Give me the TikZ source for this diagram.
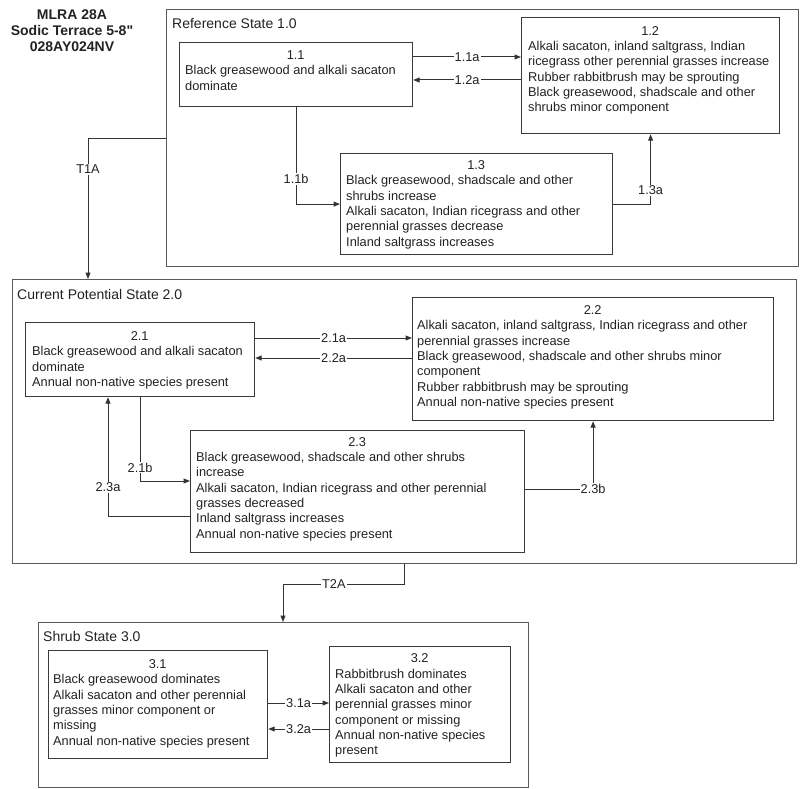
\documentclass[tikz,border=0pt]{standalone}
\usepackage{fontspec}
\setmainfont{Liberation Sans}
\usetikzlibrary{calc,arrows.meta}
\definecolor{stategray}{HTML}{5A5A5A}
\definecolor{boxgray}{HTML}{3A3A3A}
\definecolor{linecol}{HTML}{333333}
\definecolor{txtcol}{HTML}{222222}
\begin{document}
\begin{tikzpicture}[x=1pt,y=-1pt,
  statebox/.style={draw=stategray, line width=1.4pt, inner sep=0pt, anchor=north west},
  sbox/.style={draw=boxgray, line width=1.2pt, inner sep=0pt, anchor=north west},
  txt/.style={anchor=north west, inner sep=0pt, align=left, font=\fontsize{12.8}{15.3}\selectfont, text=txtcol},
  statelbl/.style={anchor=west, inner sep=0pt, font=\fontsize{14}{16}\selectfont, text=txtcol},
  conn/.style={draw=linecol, line width=1pt, -{Triangle[length=6.5pt,width=5pt]}},
  lbl/.style={fill=white, inner sep=1pt, font=\fontsize{12.8}{15}\selectfont, text=txtcol}]
\useasboundingbox (0,0) rectangle (800,789);

% title
\node[align=center, inner sep=0pt, font=\bfseries\fontsize{14}{16}\selectfont, text=txtcol] (title) at (72,31)
  {MLRA 28A\\Sodic Terrace 5-8\XeTeXglyph\XeTeXcharglyph"22\relax\\028AY024NV};

% state containers
\node[statebox, minimum width=632pt, minimum height=257pt] (s1) at (166,9) {};
\node[statebox, minimum width=784pt, minimum height=284pt] (s2) at (12,279) {};
\node[statebox, minimum width=490pt, minimum height=165pt] (s3) at (38,622) {};
\node[statelbl] (s1l) at (172,24) {Reference State 1.0};
\node[statelbl] (s2l) at (17,294) {Current Potential State 2.0};
\node[statelbl] (s3l) at (43,636) {Shrub State 3.0};

% community boxes
\node[sbox, minimum width=233pt, minimum height=64pt] (b11) at (179,42) {};
\node[sbox, minimum width=258pt, minimum height=116pt] (b12) at (521,17) {};
\node[sbox, minimum width=272pt, minimum height=101pt] (b13) at (340,153) {};
\node[sbox, minimum width=229pt, minimum height=74pt] (b21) at (25,322) {};
\node[sbox, minimum width=361pt, minimum height=123pt] (b22) at (412,297) {};
\node[sbox, minimum width=334pt, minimum height=122pt] (b23) at (190,430) {};
\node[sbox, minimum width=219pt, minimum height=108pt] (b31) at (48,650) {};
\node[sbox, minimum width=181pt, minimum height=116pt] (b32) at (329,646) {};

% texts
\node[txt] (t11) at ($(b11.north west)+(6,8.4)$) {\makebox[221pt]{1.1}\\
Black greasewood and alkali sacaton\\dominate};
\node[txt] (t12) at ($(b12.north west)+(7,9.1)$) {\makebox[244pt]{1.2}\\
Alkali sacaton, inland saltgrass, Indian\\
ricegrass other perennial grasses increase\\
Rubber rabbitbrush may be sprouting\\
Black greasewood, shadscale and other\\
shrubs minor component};
\node[txt] (t13) at ($(b13.north west)+(6,7.4)$) {\makebox[260pt]{1.3}\\
Black greasewood, shadscale and other\\
shrubs increase\\
Alkali sacaton, Indian ricegrass and other\\
perennial grasses decrease\\
Inland saltgrass increases};
\node[txt] (t21) at ($(b21.north west)+(7,9.4)$) {\makebox[215pt]{2.1}\\
Black greasewood and alkali sacaton\\
dominate\\
Annual non-native species present};
\node[txt] (t22) at ($(b22.north west)+(5,8.4)$) {\makebox[351pt]{2.2}\\
Alkali sacaton, inland saltgrass, Indian ricegrass and other\\
perennial grasses increase\\
Black greasewood, shadscale and other shrubs minor\\
component\\
Rubber rabbitbrush may be sprouting\\
Annual non-native species present};
\node[txt] (t23) at ($(b23.north west)+(6,7.1)$) {\makebox[322pt]{2.3}\\
Black greasewood, shadscale and other shrubs\\
increase\\
Alkali sacaton, Indian ricegrass and other perennial\\
grasses decreased\\
Inland saltgrass increases\\
Annual non-native species present};
\node[txt] (t31) at ($(b31.north west)+(5,9.4)$) {\makebox[209pt]{3.1}\\
Black greasewood dominates\\
Alkali sacaton and other perennial\\
grasses minor component or\\
missing\\
Annual non-native species present};
\node[txt] (t32) at ($(b32.north west)+(6,7.7)$) {\makebox[169pt]{3.2}\\
Rabbitbrush dominates\\
Alkali sacaton and other\\
perennial grasses minor\\
component or missing\\
Annual non-native species\\
present};

% connector start points
\path (b11.north east) ++(0,15) coordinate (p11a);
\path (b12.north west) ++(0,63) coordinate (p12a);
\path (b21.north east) ++(0,16) coordinate (p21a);
\path (b22.north west) ++(0,61) coordinate (p22a);
\path (b31.north east) ++(0,53) coordinate (p31a);
\path (b32.north west) ++(0,83) coordinate (p32a);
\path (b23.north west) ++(0,51) coordinate (p21b);
\path (b23.north west) ++(0,86) coordinate (p23a);
\path (b21.south west) ++(83,0) coordinate (q23a);
\path (b23.north east) ++(0,59) coordinate (p23b);
\path (s2.north west) ++(76,0) coordinate (qT1);
\path (s2.south west) ++(392,0) coordinate (pT2);
\path (s3.north west) ++(245,0) coordinate (qT2);

% state 1 connectors
\draw[conn] (p11a) -- (p11a -| b12.west) node[lbl, midway] {1.1a};
\draw[conn] (p12a) -- (p12a -| b11.east) node[lbl, midway] {1.2a};
\draw[conn] (b11.south) |- (b13.west) node[lbl, pos=0.37] {1.1b};
\draw[conn] (b13.east) -| (b12.south) node[lbl, pos=0.6] {1.3a};

% transitions
\draw[conn] (s1.west) -| (qT1) node[lbl, pos=0.61] {T1A};
\draw[conn] (pT2) -- ++(0,20) -| (qT2) node[lbl, pos=0.29] {T2A};

% state 2 connectors
\draw[conn] (p21a) -- (p21a -| b22.west) node[lbl, midway] {2.1a};
\draw[conn] (p22a) -- (p22a -| b21.east) node[lbl, midway] {2.2a};
\draw[conn] (b21.south) |- (p21b) node[lbl, pos=0.42] {2.1b};
\draw[conn] (p23a) -| (q23a) node[lbl, pos=0.62] {2.3a};
\draw[conn] (p23b) -| (b22.south) node[lbl, pos=0.5] {2.3b};

% state 3 connectors
\draw[conn] (p31a) -- (p31a -| b32.west) node[lbl, midway] {3.1a};
\draw[conn] (p32a) -- (p32a -| b31.east) node[lbl, midway] {3.2a};
\end{tikzpicture}
\end{document}
